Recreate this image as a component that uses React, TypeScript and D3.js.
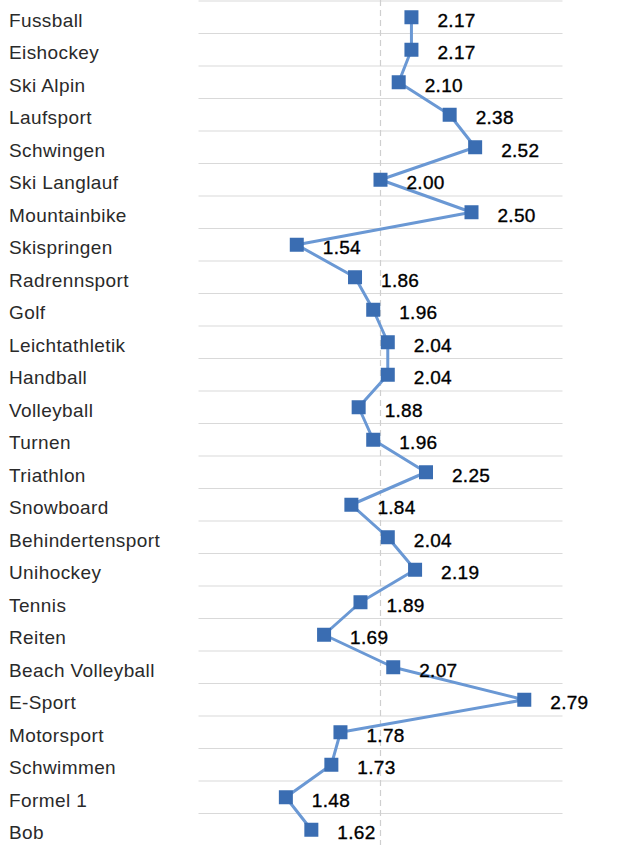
import React from "react";
import * as d3 from "d3";

const categories = [
  "Fussball", "Eishockey", "Ski Alpin", "Laufsport", "Schwingen", "Ski Langlauf",
  "Mountainbike", "Skispringen", "Radrennsport", "Golf", "Leichtathletik", "Handball",
  "Volleyball", "Turnen", "Triathlon", "Snowboard", "Behindertensport", "Unihockey",
  "Tennis", "Reiten", "Beach Volleyball", "E-Sport", "Motorsport", "Schwimmen",
  "Formel 1", "Bob",
];
const values = [
  2.17, 2.17, 2.10, 2.38, 2.52, 2.00, 2.50, 1.54, 1.86, 1.96, 2.04, 2.04, 1.88,
  1.96, 2.25, 1.84, 2.04, 2.19, 1.89, 1.69, 2.07, 2.79, 1.78, 1.73, 1.48, 1.62,
];
const xDomain = [1, 3];
const referenceValue = 2;

const W = 627;
const H = 845;

export default function App() {
  const x = d3.scaleLinear().domain(xDomain).range([198.5, 562.5]);
  const y = d3
    .scaleBand<string>()
    .domain(categories)
    .range([1, 1 + 32.5 * categories.length])
    .padding(0);
  const cy = (c: string) => (y(c) as number) + y.bandwidth() / 2;
  const pts = categories.map((c, i) => [x(values[i]), cy(c)] as [number, number]);
  const line = d3.line()(pts) as string;
  const gridYs = categories.map((c) => y(c) as number);
  const font = "'Liberation Sans', Arial, Helvetica, sans-serif";
  const ms = 14;

  return (
    <div style={{ position: "absolute", left: 0, top: 0 }}>
      <svg width={W} height={H} style={{ display: "block" }}>
        <rect width={W} height={H} fill="#fff" />
        {gridYs.map((gy, i) => (
          <line key={i} x1={x(xDomain[0])} x2={x(xDomain[1])} y1={gy} y2={gy} stroke="#d9d9d9" strokeWidth={1.2} />
        ))}
        <line
          x1={x(referenceValue)}
          x2={x(referenceValue)}
          y1={0}
          y2={H}
          stroke="#cfcfcf"
          strokeWidth={1.2}
          strokeDasharray="6,4"
        />
        {categories.map((c) => (
          <text key={c} x={9} y={cy(c) + 9.5} fontFamily={font} fontSize={19} letterSpacing={0.4} fill="#2a2a2a">
            {c}
          </text>
        ))}
        <path d={line} fill="none" stroke="#6a98d4" strokeWidth={3} strokeLinejoin="round" />
        {pts.map(([px, py], i) => (
          <rect key={i} x={px - ms / 2} y={py - ms / 2} width={ms} height={ms} fill="#3a6db2" />
        ))}
        {pts.map(([px, py], i) => (
          <text
            key={"v" + i}
            x={px + 26}
            y={py + 9.5}
            fontFamily={font}
            fontSize={19}
            letterSpacing={0.3}
            fill="#000"
            stroke="#000"
            strokeWidth={0.35}
          >
            {values[i].toFixed(2)}
          </text>
        ))}
      </svg>
    </div>
  );
}
